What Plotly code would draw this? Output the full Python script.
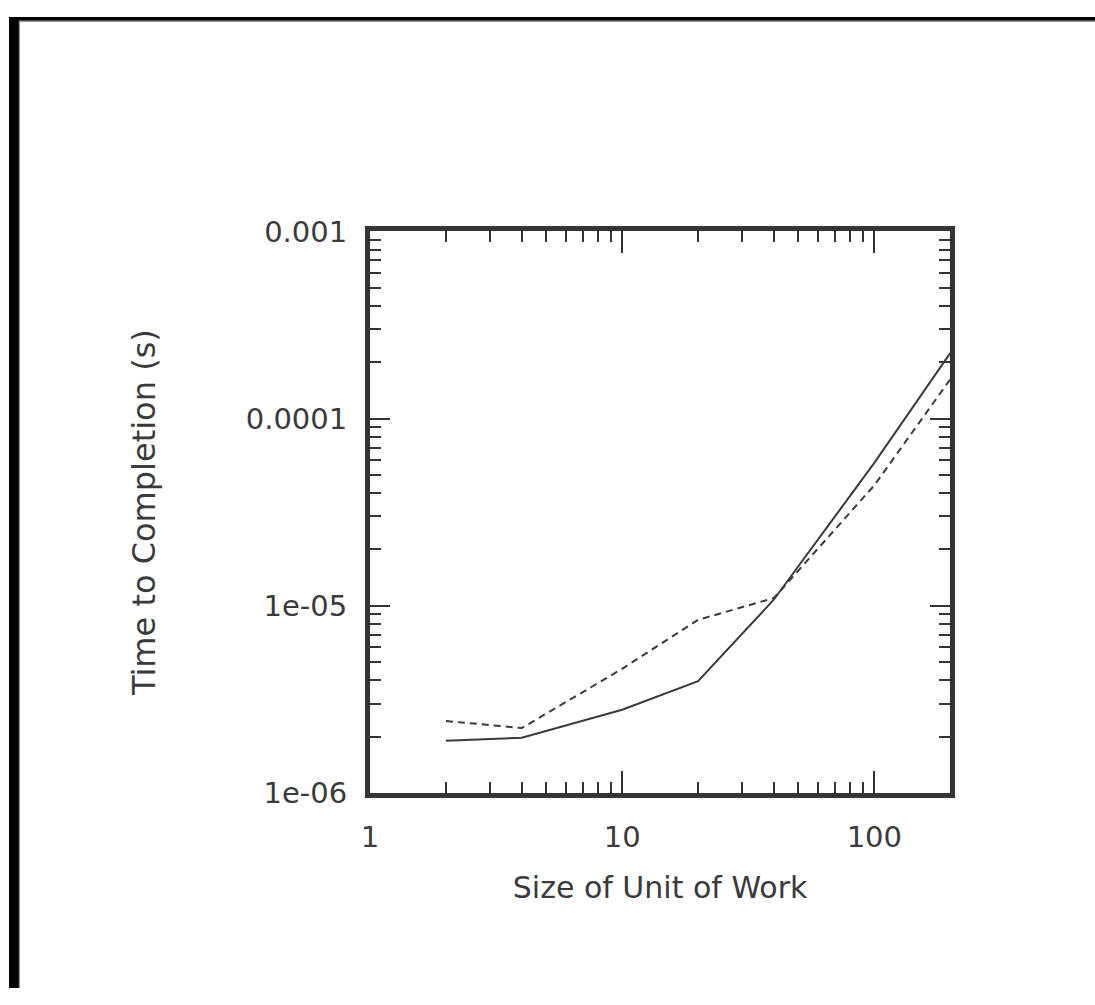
import plotly.graph_objects as go
import numpy as np

# Data
unit_size = [2, 4, 10, 20, 40, 100, 200]
time_solid = [1.9e-6, 1.97e-6, 2.78e-6, 3.95e-6, 1.08e-5, 5.8e-5, 2.24e-4]
time_dashed = [2.42e-6, 2.22e-6, 4.6e-6, 8.4e-6, 1.1e-5, 4.4e-5, 1.62e-4]

x_major = [1, 10, 100]
x_major_text = ["1", "10", "100"]
y_major = [1e-6, 1e-5, 1e-4, 1e-3]
y_major_text = ["1e-06", "1e-05", "0.0001", "0.001"]

x_minor = [m * d for d in [1, 10, 100] for m in range(2, 10) if m * d <= 200]
y_minor = [m * d for d in [1e-6, 1e-5, 1e-4] for m in range(2, 10)]

W, H = 1095, 1005
left, right, top, bottom = 364, 949, 222, 803
xdom = [left / W, right / W]
ydom = [1 - bottom / H, 1 - top / H]

LINE = "#3a3a3a"
FRAME = "#333333"
TEXT = "#3a3a3a"
FONT = "DejaVu Sans"

fig = go.Figure()
fig.add_trace(go.Scatter(x=unit_size, y=time_solid, mode="lines",
                         line=dict(color=LINE, width=2), showlegend=False))
fig.add_trace(go.Scatter(x=unit_size, y=time_dashed, mode="lines",
                         line=dict(color=LINE, width=2, dash="7px,5px"), showlegend=False))

xr = [0, np.log10(200)]
yr = [-6, -3]

fig.update_layout(
    width=W, height=H,
    margin=dict(l=0, r=0, t=0, b=0),
    paper_bgcolor="white", plot_bgcolor="white",
    showlegend=False,
    xaxis=dict(type="log", range=xr, domain=xdom, anchor="y",
               tickvals=x_major, ticktext=x_major_text,
               ticks="inside", ticklen=22, tickwidth=2, tickcolor=FRAME,
               showline=True, linewidth=5, linecolor=FRAME, mirror="allticks",
               showgrid=False, zeroline=False, ticklabelstandoff=14,
               tickfont=dict(family=FONT, size=29, color=TEXT),
               title=dict(text="Size of Unit of Work", standoff=26,
                          font=dict(family=FONT, size=30, color=TEXT))),
    yaxis=dict(type="log", range=yr, domain=ydom, anchor="x",
               tickvals=y_major, ticktext=y_major_text,
               ticks="inside", ticklen=20, tickwidth=2, tickcolor=FRAME,
               showline=True, linewidth=5, linecolor=FRAME, mirror="allticks",
               showgrid=False, zeroline=False, ticklabelstandoff=12,
               tickfont=dict(family=FONT, size=29, color=TEXT),
               title=dict(text="Time to Completion (s)", standoff=82,
                          font=dict(family=FONT, size=32, color=TEXT))),
    xaxis2=dict(type="log", range=xr, domain=xdom, anchor="y2", overlaying="x",
                tickvals=x_minor, showticklabels=False,
                ticks="inside", ticklen=11, tickwidth=2, tickcolor=FRAME,
                showline=False, mirror="allticks", showgrid=False, zeroline=False),
    yaxis2=dict(type="log", range=yr, domain=ydom, anchor="x2", overlaying="y",
                tickvals=y_minor, showticklabels=False,
                ticks="inside", ticklen=11, tickwidth=2, tickcolor=FRAME,
                showline=False, mirror="allticks", showgrid=False, zeroline=False),
)
# dummy trace to activate the minor-tick axes
fig.add_trace(go.Scatter(x=[None], y=[None], xaxis="x2", yaxis="y2",
                         mode="lines", showlegend=False, hoverinfo="skip"))

# black border along left and top edges, with a thin grey inner edge
fig.add_shape(type="rect", xref="paper", yref="paper", x0=0, x1=10 / W, y0=0, y1=1,
              fillcolor="black", line=dict(width=0), layer="above")
fig.add_shape(type="rect", xref="paper", yref="paper", x0=0, x1=1, y0=1 - 4 / H, y1=1,
              fillcolor="black", line=dict(width=0), layer="above")
fig.add_shape(type="line", xref="paper", yref="paper", x0=10.5 / W, x1=10.5 / W,
              y0=0, y1=1 - 4 / H, line=dict(color="#888", width=1), layer="above")
fig.add_shape(type="line", xref="paper", yref="paper", x0=10 / W, x1=1,
              y0=1 - 4.5 / H, y1=1 - 4.5 / H, line=dict(color="#888", width=1), layer="above")

fig.write_html("out.html")
